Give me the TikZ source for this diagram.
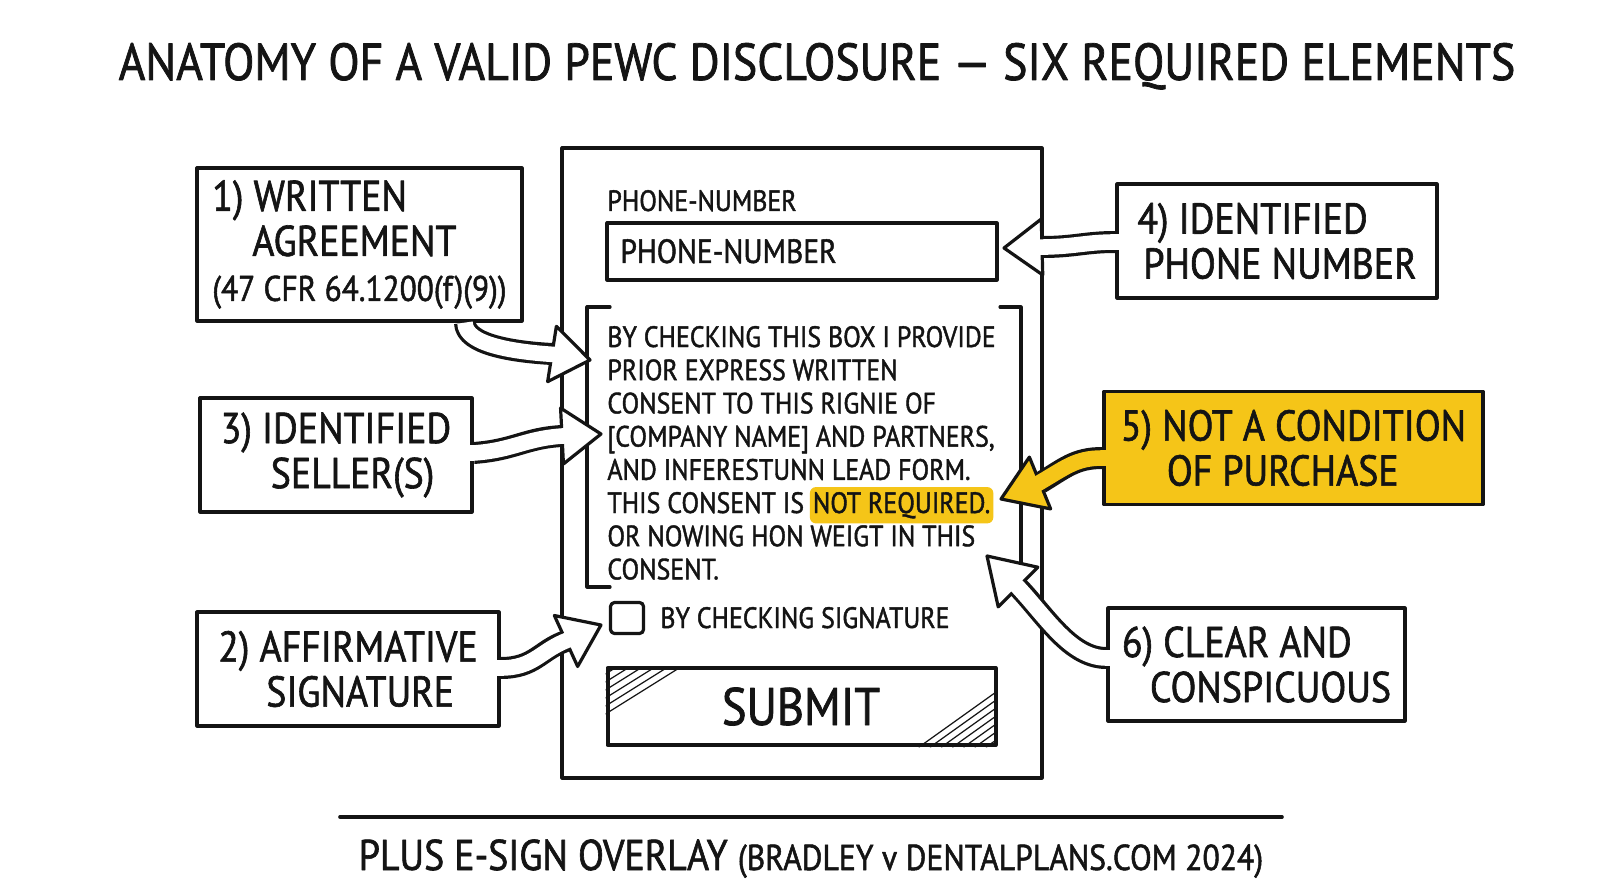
\documentclass[tikz,border=0pt]{standalone}
\usepackage{fontspec}
\newfontfamily\hand[FakeStretch=0.88, FakeBold=1.4]{PT Sans}
\usetikzlibrary{calc}
\definecolor{ink}{HTML}{141414}
\definecolor{hi}{HTML}{F5C518}
% #1 fill, #2 inner start, #3 edge start, #4 c1, #5 c2, #6 neck, #7 tip
\newcommand\blockarrow[7]{%
  \draw[ink, line width=11pt, line cap=butt] #3 .. controls #4 and #5 .. #6;
  \filldraw[fill=#1, draw=ink, line width=1.6pt, line join=round]
     ($#6!14pt!90:#7$) -- #7 -- ($#6!14pt!-90:#7$) -- cycle;
  \draw[#1, line width=7.8pt, line cap=butt] #2 -- #3 .. controls #4 and #5 .. ($#6!2pt!#7$);
}
\begin{document}
\begin{tikzpicture}[x=0.5pt, y=-0.5pt,
  line cap=round, line join=round,
  every node/.style={font=\hand, text=ink},
  lbox/.style={draw=ink, line width=1.6pt, fill=white, inner sep=0pt, align=left,
     font=\hand\fontsize{21.5}{22.5}\selectfont},
  ctext/.style={anchor=base west, inner sep=0pt, font=\hand\fontsize{14.7}{16}\selectfont},
  thin/.style={draw=ink, line width=1.6pt},
  hatch/.style={draw=ink, line width=0.6pt}]
\useasboundingbox (0,0) rectangle (1600,893);

% title
\node[anchor=base, inner sep=0pt, font=\hand\fontsize{26}{30}\selectfont] (title) at (817,80)
  {ANATOMY OF A VALID PEWC DISCLOSURE — SIX REQUIRED ELEMENTS};

% form
\node[thin, fill=white, minimum width=240pt, minimum height=315pt, inner sep=0pt] (form) at (802,463) {};
\node[ctext] (plabel) at (607,211) {PHONE-NUMBER};
\node[thin, minimum width=195pt, minimum height=28.5pt, inner sep=0pt] (input) at (802,251.5) {};
\node[anchor=base west, inner sep=0pt, font=\hand\fontsize{16.8}{18}\selectfont] (intext) at (620,263) {PHONE-NUMBER};

% consent bracket
\coordinate (bl1) at (610,307); \coordinate (bl2) at (587,307);
\coordinate (bl3) at (587,587); \coordinate (bl4) at (610,587);
\coordinate (br1) at (1000,307); \coordinate (br2) at (1021,307);
\coordinate (br3) at (1021,587); \coordinate (br4) at (1003,587);
\draw[thin] (bl1) -- (bl2) -- (bl3) -- (bl4);
\draw[thin] (br1) -- (br2) -- (br3) -- (br4);

\node[ctext] (c1) at (607,347) {BY CHECKING THIS BOX I PROVIDE};
\node[ctext] (c2) at (607,380.2) {PRIOR EXPRESS WRITTEN};
\node[ctext] (c3) at (607,413.4) {CONSENT TO THIS RIGNIE OF};
\node[ctext] (c4) at (607,446.6) {[COMPANY NAME] AND PARTNERS,};
\node[ctext] (c5) at (607,479.8) {AND INFERESTUNN LEAD FORM.};
\node[ctext] (c6) at (607,513) {THIS CONSENT IS};
\node[ctext, fill=hi, rounded corners=3pt, inner xsep=1.5pt, inner ysep=2.5pt, anchor=base west]
   (c6b) at ([xshift=2.5pt]c6.base east) {NOT REQUIRED.};
\node[ctext] (c7) at (607,546.2) {OR NOWING HON WEIGT IN THIS};
\node[ctext] (c8) at (607,579.4) {CONSENT.};

% checkbox
\node[thin, rounded corners=2pt, minimum width=16.5pt, minimum height=15.5pt, inner sep=0pt] (cbox) at (627,618) {};
\node[ctext] (cblabel) at (660,628) {BY CHECKING SIGNATURE};

% submit
\node[draw=ink, line width=2pt, minimum width=194pt, minimum height=38.5pt, inner sep=0pt] (submit) at (801.5,706.5) {};
\begin{scope}
  \clip (submit.south west) rectangle (submit.north east);
  \foreach \k in {8,16,...,48} {\draw[hatch] ($(submit.north west)+(0,\k)$) -- ($(submit.north west)+(\k*1.6,0)$);}
  \foreach \k in {8,16,...,56} {\draw[hatch] ($(submit.south east)+(-\k*1.4,0)$) -- ($(submit.south east)+(0,-\k)$);}
\end{scope}
\node[anchor=base, inner sep=0pt, font=\hand\fontsize{26.4}{30}\selectfont] (subtext) at (801,725) {SUBMIT};

% label boxes
\node[lbox, minimum width=162.5pt, minimum height=76.5pt] (b1) at (359.5,244.5)
  {1) WRITTEN\\\hspace*{20pt}AGREEMENT\\{\fontsize{17.8}{22.5}\selectfont (47 CFR 64.1200(f)(9))}};
\node[lbox, minimum width=136pt, minimum height=57pt] (b3) at (336,455)
  {3) IDENTIFIED\\\hspace*{25pt}SELLER(S)};
\node[lbox, minimum width=151pt, minimum height=57pt] (b2) at (348,669)
  {2) AFFIRMATIVE\\\hspace*{24pt}SIGNATURE};
\node[lbox, minimum width=160pt, minimum height=57pt] (b4) at (1277,241)
  {4) IDENTIFIED\\\hspace*{3pt}PHONE NUMBER};
\node[lbox, fill=hi, minimum width=189.5pt, minimum height=56.5pt] (b5) at (1293.5,448)
  {5) NOT A CONDITION\\\hspace*{23pt}OF PURCHASE};
\node[lbox, minimum width=148.5pt, minimum height=56.5pt] (b6) at (1256.5,664.5)
  {6) CLEAR AND\\\hspace*{14pt}CONSPICUOUS};

% arrows
\blockarrow{white}{(b1.south -| 465,310)}{(b1.south -| 465,0)}{(465,345)}{(515,352)}{(552,354)}{(590,360)}
\blockarrow{white}{(b3.east |- 0,453)+(-10,0)}{(b3.east |- 0,453)}{(515,450)}{(525,438)}{(562,436)}{(601,434)}
\blockarrow{white}{([xshift=-5pt]b2.east |- 0,668)}{(b2.east |- 0,668)}{(535,668)}{(540,650)}{(566,641)}{(601,625)}
\blockarrow{white}{([xshift=5pt]b4.west |- 0,242)}{(b4.west |- 0,242)}{(1085,242)}{(1075,247)}{(1042,247)}{(1004,248)}
\blockarrow{hi}{([xshift=5pt]b5.west |- 0,458)}{(b5.west |- 0,458)}{(1075,458)}{(1065,468)}{(1040,483)}{(1001,499)}
\blockarrow{white}{([xshift=5pt]b6.west |- 0,658)}{(b6.west |- 0,658)}{(1070,658)}{(1045,615)}{(1018,587)}{(987,556)}

% footer
\coordinate (fl1) at (340,817); \coordinate (fl2) at (1282,817);
\draw[ink, line width=1.8pt] (fl1) -- (fl2);
\node[anchor=base, inner sep=0pt] (foot) at (811,870)
  {{\fontsize{21.5}{24}\selectfont PLUS E-SIGN OVERLAY }{\fontsize{18}{24}\selectfont (BRADLEY v DENTALPLANS.COM 2024)}};
\end{tikzpicture}
\end{document}
